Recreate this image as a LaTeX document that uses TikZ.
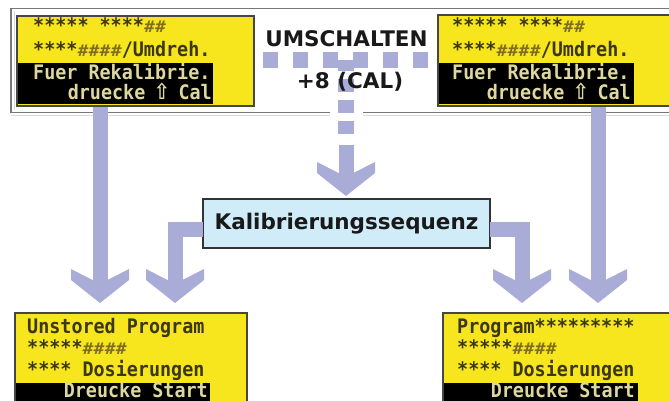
\documentclass[tikz,border=0pt]{standalone}
\usepackage{fontspec}
\usepackage{graphicx}
\usetikzlibrary{calc}
\newfontfamily\lcdfont[FakeStretch=0.92]{DejaVu Sans Mono}
\newfontfamily\symfont[FakeStretch=0.9]{DejaVu Sans}
\newfontfamily\lblfont{DejaVu Sans}
\definecolor{lcdyellow}{RGB}{247,229,29}
\definecolor{lcdtext}{RGB}{58,56,24}
\definecolor{lcdinv}{RGB}{222,216,160}
\definecolor{hashcol}{RGB}{125,110,25}
\definecolor{arrowcol}{RGB}{170,172,216}
\definecolor{calfill}{RGB}{208,236,248}
\definecolor{framecol}{RGB}{120,120,120}
\definecolor{dispborder}{RGB}{70,70,70}
\newcommand\hsh{\makebox[\fontcharwd\font`M]{\textcolor{hashcol}{\itshape\scalebox{0.95}[0.8]{\#}}}}
\newcommand\upk{\makebox[\fontcharwd\font`M]{\smash{\symfont\fontsize{22}{22}\selectfont ⇧}}}
\tikzset{
  lcd/.style={font=\lcdfont\bfseries\fontsize{20}{21}\selectfont, text=lcdtext, inner sep=0pt},
  lcdinvtxt/.style={lcd, text=lcdinv},
  lbl/.style={font=\lblfont\bfseries\fontsize{21.5}{22}\selectfont, text=black!90, inner sep=0pt},
  stem/.style={draw=arrowcol, line width=15pt, line join=miter},
  dashbar/.style={draw=arrowcol, line width=16pt},
  dispframe/.style={draw=dispborder, line width=2.2pt},
  fathead/.pic={\fill[arrowcol] (-7.5,-23) -- (-29,-34) -- (-29,-23) -- (0,0) -- (29,-23) -- (29,-34) -- (7.5,-23) -- cycle;},
}
\begin{document}
\begin{tikzpicture}[x=1pt,y=-1pt]
\useasboundingbox (0,0) rectangle (669,401);
\fill[white] (0,0) rectangle (669,401);
% top frame
\draw[gray!30, line width=1pt] (14,11) -- (14,110);
\draw[gray!30, line width=1pt] (11,115.5) -- (690,115.5);
\draw[framecol, line width=1.6pt] (11,8.5) rectangle (690,112.5);
\fill[white] (330,108) rectangle (363,118);
% top displays
\fill[lcdyellow] (17,16) rectangle (254,106);
\fill[black] (17,63) rectangle (213,104);
\draw[dispframe] (17,16) rectangle (254,106);
\fill[lcdyellow] (438,15) rectangle (690,106);
\fill[black] (438,63) rectangle (634,104);
\draw[dispframe] (438,15) rectangle (690,106);
% dashed connectors
\draw[dashbar, dash pattern=on 15pt off 15pt] (263,60) -- (431,60);
\draw[dashbar, dash pattern=on 13pt off 8pt] (346,134) -- (346,60);
% labels
\node[lbl, anchor=base] (umsch) at (346.5,47) {UMSCHALTEN};
\node[lbl, anchor=base] (cal8) at (350,89) {+8 (CAL)};
% calibration box
\node[draw=black!80, line width=1.5pt, fill=calfill, minimum width=287pt, minimum height=49pt, inner sep=0pt,
      font=\lblfont\bfseries\fontsize{21.5}{22}\selectfont, text=black!90] (cal) at (346.5,223.5) {Kalibrierungssequenz};
% arrows
\coordinate (a1s) at (100,107); \coordinate (a1t) at (100,303);
\coordinate (a2s) at (598,107); \coordinate (a2t) at (598,303);
\coordinate (a3s) at (346,145); \coordinate (a3t) at (346,196);
\coordinate (b1t) at (175,303); \coordinate (b2t) at (522,303);
\draw[stem] (a1s) -- ($(a1t)+(0,-22)$);
\pic (h1) at (a1t) {fathead};
\draw[stem] (a2s) -- ($(a2t)+(0,-22)$);
\pic (h2) at (a2t) {fathead};
\draw[stem] (a3s) -- ($(a3t)+(0,-22)$);
\pic (h3) at (a3t) {fathead};
\draw[stem] ($(cal.west)+(0.8,5.5)$) -| ($(b1t)+(0,-22)$);
\pic (h4) at (b1t) {fathead};
\draw[stem] ($(cal.east)+(-0.8,5.5)$) -| ($(b2t)+(0,-22)$);
\pic (h5) at (b2t) {fathead};
% bottom displays
\fill[lcdyellow] (15,313) rectangle (247,420);
\fill[black] (15,383) rectangle (210,420);
\draw[dispframe] (15,313) rectangle (247,420);
\fill[lcdyellow] (443,313) rectangle (690,420);
\fill[black] (443,383) rectangle (638,420);
\draw[dispframe] (443,313) rectangle (690,420);
% texts top-left
\node[lcd, anchor=base west] (tl1) at (33,33) {***** ****\hsh\hsh};
\node[lcd, anchor=base west] (tl2) at (33,57) {****\hsh\hsh\hsh\hsh/Umdreh.};
\node[lcdinvtxt, anchor=base west] (tl3) at (33,80) {Fuer Rekalibrie.};
\node[lcdinvtxt, anchor=base east] (tl4) at (212,100) {druecke \upk{} Cal};
% texts top-right
\node[lcd, anchor=base west] (tr1) at (452,33) {***** ****\hsh\hsh};
\node[lcd, anchor=base west] (tr2) at (452,57) {****\hsh\hsh\hsh\hsh/Umdreh.};
\node[lcdinvtxt, anchor=base west] (tr3) at (452,80) {Fuer Rekalibrie.};
\node[lcdinvtxt, anchor=base east] (tr4) at (631,100) {druecke \upk{} Cal};
% texts bottom-left
\node[lcd, anchor=base west] (bl1) at (27,333) {Unstored Program};
\node[lcd, anchor=base west] (bl2) at (27,354) {*****\hsh\hsh\hsh\hsh};
\node[lcd, anchor=base west] (bl3) at (27,376) {**** Dosierungen};
\node[lcdinvtxt, anchor=base east] (bl4) at (208,397) {Dreucke Start};
% texts bottom-right
\node[lcd, anchor=base west] (br1) at (457,333) {Program*********};
\node[lcd, anchor=base west] (br2) at (457,354) {*****\hsh\hsh\hsh\hsh};
\node[lcd, anchor=base west] (br3) at (457,376) {**** Dosierungen};
\node[lcdinvtxt, anchor=base east] (br4) at (635,397) {Dreucke Start};
\end{tikzpicture}
\end{document}
